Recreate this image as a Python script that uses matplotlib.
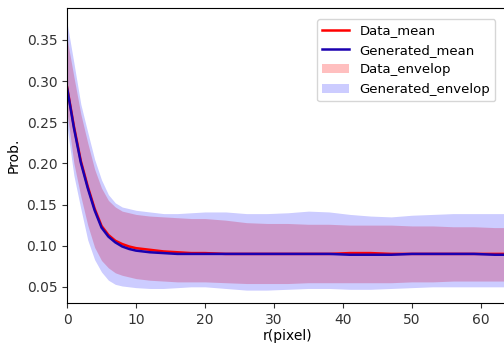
import matplotlib
matplotlib.use("Agg")
import matplotlib.pyplot as plt

# radius samples (pixel)
r = [0, 1, 2, 3, 4, 5, 6, 7, 8, 9, 10, 12, 14, 16, 18, 20, 23, 26, 29, 32,
     35, 38, 41, 44, 47, 50, 53, 56, 59, 62, 64]

data_mean = [0.293, 0.245, 0.203, 0.172, 0.145, 0.124, 0.113, 0.106, 0.102, 0.099,
             0.097, 0.095, 0.093, 0.092, 0.091, 0.091, 0.090, 0.090, 0.090, 0.090,
             0.090, 0.090, 0.091, 0.091, 0.090, 0.090, 0.090, 0.090, 0.090, 0.090, 0.090]
gen_mean = [0.292, 0.243, 0.201, 0.170, 0.143, 0.122, 0.111, 0.104, 0.099, 0.096,
            0.094, 0.092, 0.091, 0.090, 0.090, 0.090, 0.090, 0.090, 0.090, 0.090,
            0.090, 0.090, 0.089, 0.089, 0.089, 0.090, 0.090, 0.090, 0.090, 0.089, 0.089]

data_upper = [0.352, 0.305, 0.260, 0.225, 0.193, 0.170, 0.155, 0.147, 0.142, 0.140,
              0.138, 0.136, 0.135, 0.134, 0.133, 0.133, 0.131, 0.128, 0.127, 0.127,
              0.126, 0.126, 0.125, 0.125, 0.125, 0.124, 0.124, 0.123, 0.123, 0.122, 0.122]
data_lower = [0.262, 0.200, 0.160, 0.125, 0.098, 0.082, 0.073, 0.067, 0.064, 0.062,
              0.060, 0.058, 0.057, 0.056, 0.056, 0.056, 0.055, 0.054, 0.054, 0.054,
              0.055, 0.055, 0.055, 0.055, 0.055, 0.056, 0.056, 0.057, 0.057, 0.057, 0.057]
gen_upper = [0.371, 0.322, 0.272, 0.238, 0.205, 0.180, 0.162, 0.152, 0.147, 0.145,
             0.143, 0.141, 0.139, 0.139, 0.140, 0.141, 0.141, 0.139, 0.139, 0.140,
             0.142, 0.141, 0.138, 0.136, 0.135, 0.137, 0.138, 0.139, 0.139, 0.139, 0.139]
gen_lower = [0.245, 0.185, 0.145, 0.107, 0.083, 0.068, 0.058, 0.053, 0.051, 0.050,
             0.049, 0.048, 0.048, 0.049, 0.050, 0.050, 0.048, 0.046, 0.046, 0.047,
             0.048, 0.048, 0.047, 0.047, 0.048, 0.049, 0.050, 0.050, 0.050, 0.050, 0.050]

fig = plt.figure(figsize=(5.04, 3.43), dpi=100)
ax = fig.add_axes([0.133, 0.117, 0.876, 0.860])

ax.plot(r, data_mean, color="red", linewidth=1.8, label="Data_mean")
ax.plot(r, gen_mean, color="#1a00b0", linewidth=1.8, label="Generated_mean")
ax.fill_between(r, data_lower, data_upper, color="red", alpha=0.25, linewidth=0, label="Data_envelop")
ax.fill_between(r, gen_lower, gen_upper, color="blue", alpha=0.2, linewidth=0, label="Generated_envelop")

ax.set_xlim(0, 64)
ax.set_ylim(0.0305, 0.389)
ax.set_xticks([0, 10, 20, 30, 40, 50, 60])
ax.set_yticks([0.05, 0.10, 0.15, 0.20, 0.25, 0.30, 0.35])
ax.set_xlabel("r(pixel)", labelpad=2)
ax.set_ylabel("Prob.")
ax.tick_params(colors="#333333")
ax.legend(loc="upper right", bbox_to_anchor=(0.985, 0.985), fontsize=9.5)

fig.savefig("out.png", dpi=100)
